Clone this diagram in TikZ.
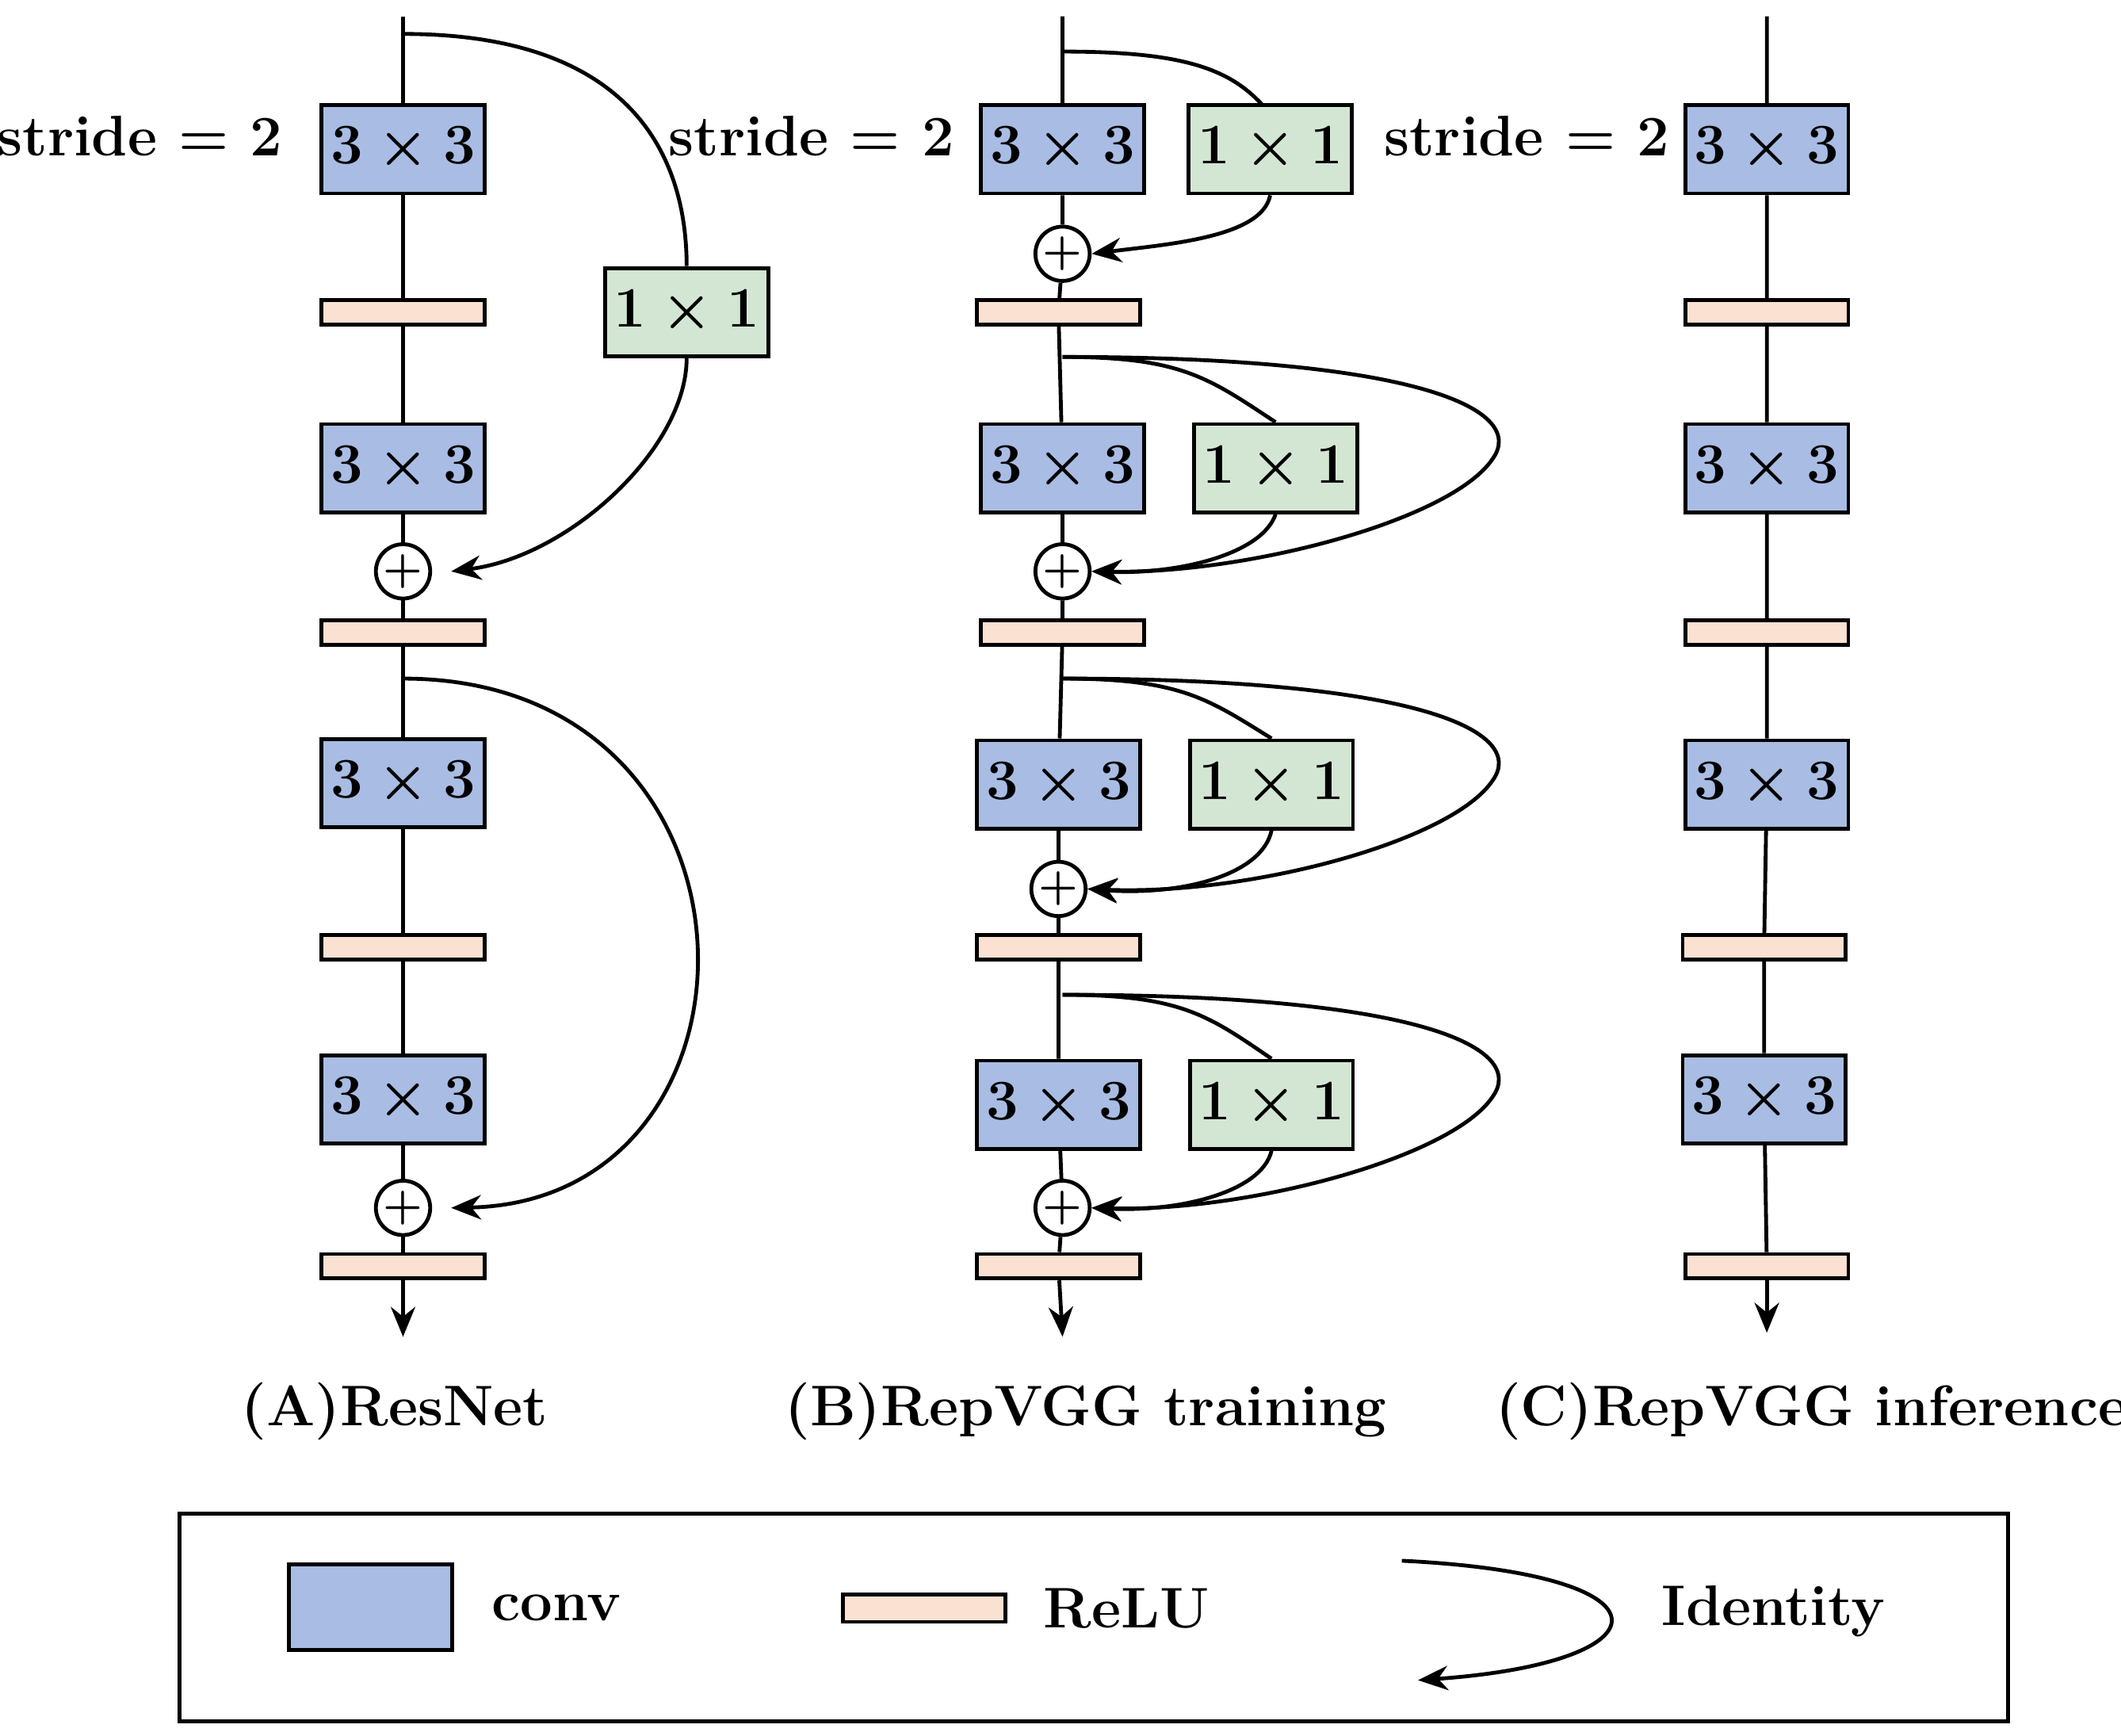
\documentclass[tikz,border=0pt]{standalone}
\usetikzlibrary{arrows.meta,positioning}
\definecolor{convblue}{HTML}{A9BCE3}
\definecolor{onegreen}{HTML}{D3E6D3}
\definecolor{relupink}{HTML}{FBE1D1}
\tikzset{
  conv/.style={draw,thick,fill=convblue,minimum width=1.2cm,minimum height=0.65cm,inner sep=0pt,font=\fontsize{13}{15}\selectfont\bfseries\boldmath},
  one/.style={draw,thick,fill=onegreen,minimum width=1.2cm,minimum height=0.65cm,inner sep=0pt,font=\fontsize{13}{15}\selectfont\bfseries\boldmath},
  relu/.style={draw,fill=relupink,minimum width=1.2cm,minimum height=0.18cm,inner sep=0pt},
  plus/.style={draw,thick,circle,fill=white,minimum size=0.4cm,inner sep=0pt,font=\bfseries\boldmath\small},
  lbl/.style={font=\fontsize{12}{14}\selectfont\bfseries},
}
\begin{document}
\begin{tikzpicture}[x=0.01cm,y=-0.01cm,thick,>={Stealth[length=2.2mm,width=1.8mm]}]
\useasboundingbox (0,0) rectangle (1563,1279);

% (A) ResNet
\coordinate (tA) at (297,12);
\node[conv] (cA1) at (297,110) {$3\times3$};
\node[relu] (rA1) at (297,230) {};
\node[conv] (cA2) at (297,345) {$3\times3$};
\node[plus] (pA1) at (297,421) {+};
\node[relu] (rA2) at (297,466) {};
\node[conv] (cA3) at (297,577) {$3\times3$};
\node[relu] (rA3) at (297,698) {};
\node[conv] (cA4) at (297,810) {$3\times3$};
\node[plus] (pA2) at (297,890) {+};
\node[relu] (rA4) at (297,933) {};
\coordinate (eA) at (297,985);
\node[one] (gA) at (506,230) {$1\times1$};
\draw (tA) -- (cA1) -- (rA1) -- (cA2) -- (pA1) -- (rA2) -- (cA3) -- (rA3) -- (cA4) -- (pA2) -- (rA4);
\draw[->] (rA4) -- (eA);
\coordinate (sA1) at (297,25);
\coordinate (sA2) at (297,500);
\draw (sA1) .. controls (470,25) and (506,120) .. (gA.north);
\draw[->] (gA.south) .. controls (506,330) and (420,410) .. ([xshift=4pt]pA1.east);
\draw[->] (sA2) .. controls (578,500) and (578,885) .. ([xshift=4pt]pA2.east);

% (B) RepVGG training
\coordinate (tB) at (783,12);
\node[conv] (cB1) at (783,110) {$3\times3$};
\node[one] (gB1) at (936,110) {$1\times1$};
\node[plus] (pB1) at (783,187) {+};
\node[relu] (rB1) at (780,230) {};
\node[conv] (cB2) at (783,345) {$3\times3$};
\node[one] (gB2) at (940,345) {$1\times1$};
\node[plus] (pB2) at (783,421) {+};
\node[relu] (rB2) at (783,466) {};
\node[conv] (cB3) at (780,578) {$3\times3$};
\node[one] (gB3) at (937,578) {$1\times1$};
\node[plus] (pB3) at (780,655) {+};
\node[relu] (rB3) at (780,698) {};
\node[conv] (cB4) at (780,814) {$3\times3$};
\node[one] (gB4) at (937,814) {$1\times1$};
\node[plus] (pB4) at (783,890) {+};
\node[relu] (rB4) at (780,933) {};
\coordinate (eB) at (783,985);
\draw (tB) -- (cB1) -- (pB1) -- (rB1) -- (cB2) -- (pB2) -- (rB2) -- (cB3) -- (pB3) -- (rB3) -- (cB4) -- (pB4) -- (rB4);
\draw[->] (rB4) -- (eB);
\coordinate (sB1) at (783,38);
\draw (sB1) .. controls (870,38) and (905,50) .. (930,77);
\draw[->] (gB1.south) .. controls (930,175) and (860,180) .. (pB1.east);
\foreach \i/\y in {2/263,3/500,4/733}{
  \coordinate (sB\i) at (783,\y);
  \draw (sB\i) .. controls (870,\y) and (890,\y+15) .. (gB\i.north);
  \draw[->] (gB\i.south) .. controls (930,\y+145) and (870,\y+160) .. (pB\i.east);
  \draw[->] (sB\i) .. controls (1050,\y) and (1125,\y+40) .. (1100,\y+75)
    .. controls (1070,\y+120) and (920,\y+160) .. (pB\i.east);
}

% (C) RepVGG inference
\coordinate (tC) at (1302,12);
\node[conv] (cC1) at (1302,110) {$3\times3$};
\node[relu] (rC1) at (1302,230) {};
\node[conv] (cC2) at (1302,345) {$3\times3$};
\node[relu] (rC2) at (1302,466) {};
\node[conv] (cC3) at (1302,578) {$3\times3$};
\node[relu] (rC3) at (1300,698) {};
\node[conv] (cC4) at (1300,810) {$3\times3$};
\node[relu] (rC4) at (1302,933) {};
\coordinate (eC) at (1302,982);
\draw (tC) -- (cC1) -- (rC1) -- (cC2) -- (rC2) -- (cC3) -- (rC3) -- (cC4) -- (rC4);
\draw[->] (rC4) -- (eC);

% labels
\node[lbl] (st1) at (103,100) {stride = 2};
\node[lbl] (st2) at (598,100) {stride = 2};
\node[lbl] (st3) at (1125,100) {stride = 2};
\node[lbl] (capA) at (291,1040) {(A)ResNet};
\node[lbl] (capB) at (800,1040) {(B)RepVGG training};
\node[lbl] (capC) at (1335,1040) {(C)RepVGG inference};

% legend
\node[draw,thick,minimum width=13.47cm,minimum height=1.53cm] (leg) at (806,1192) {};
\node[conv,minimum height=0.63cm] (lconv) at (273,1184) {};
\node[lbl] (tconv) at (410,1185) {conv};
\node[relu,minimum height=0.2cm] (lrelu) at (681,1185) {};
\node[lbl] (trelu) at (830,1185) {ReLU};
\coordinate (la) at (1033,1150);
\coordinate (lb) at (1045,1238);
\draw[->] (la) .. controls (1240,1160) and (1230,1225) .. (lb);
\node[lbl] (tid) at (1307,1187) {Identity};
\end{tikzpicture}
\end{document}
